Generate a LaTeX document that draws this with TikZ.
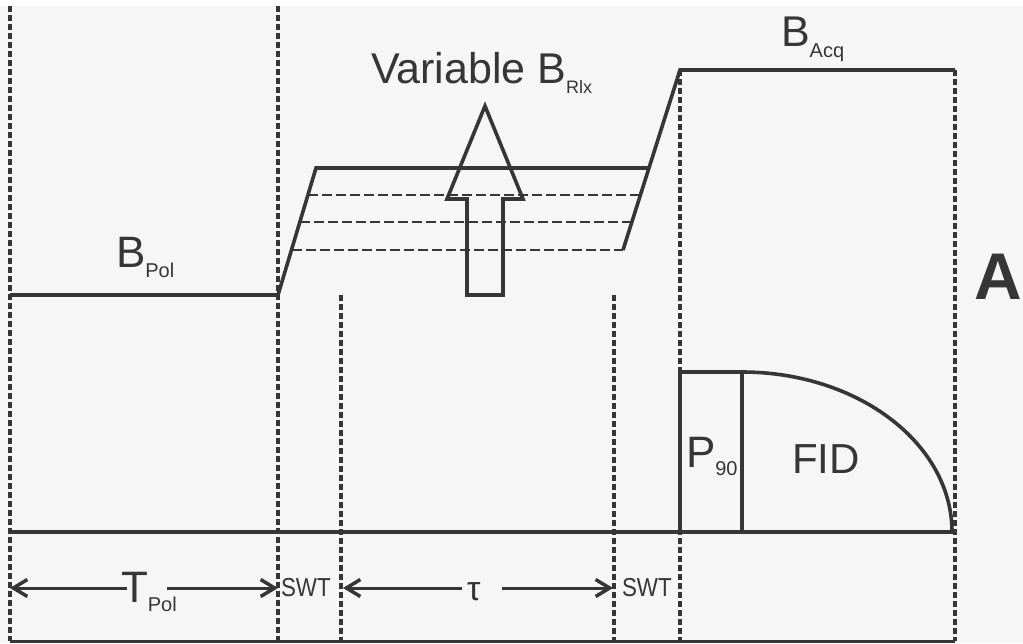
\documentclass[tikz,border=0pt]{standalone}
\usepackage{fontspec}
\setmainfont{Liberation Sans}
\usetikzlibrary{arrows.meta}
\definecolor{ink}{HTML}{363636}
\definecolor{bgc}{HTML}{F6F6F6}
\newcommand{\dropsub}[3]{\raisebox{-#1pt}{\fontsize{#2}{#2}\selectfont #3}}
\begin{document}
\begin{tikzpicture}[x=1pt,y=-1pt,line join=miter,
  solidln/.style={draw=ink,line width=3.6pt},
  vdash/.style={draw=ink,line width=4pt,dash pattern=on 6pt off 3pt},
  hdash/.style={draw=ink,line width=2.4pt,dash pattern=on 10pt off 4pt},
  lbl/.style={inner sep=0pt,outer sep=0pt,anchor=base west,text=ink},
  dimarr/.style={draw=ink,line width=3pt,-{Straight Barb[length=14pt,width=17pt,line width=3.5pt]}}]
\useasboundingbox (0,0) rectangle (1023,643);
\fill[white] (0,0) rectangle (1023,643);
\fill[bgc] (0,6) rectangle (1023,643);
% key coordinates
\coordinate (p0) at (10,295);
\coordinate (p1) at (278,295);
\coordinate (p2) at (316,168);
\coordinate (p3) at (649,168);
\coordinate (r0) at (623,250);
\coordinate (p4) at (680,70);
\coordinate (p5) at (955,70);
% vertical dashed guides
\draw[vdash] (10,6) -- (10,641);
\draw[vdash] (278,6) -- (278,641);
\draw[vdash] (341,295) -- (341,641);
\draw[vdash] (614,295) -- (614,641);
\draw[vdash] (p4) -- (680,641);
\draw[vdash] (p5) -- (955,641);
% field profile
\draw[solidln] (p0) -- (p1) -- (p2) -- (p3);
\draw[solidln] (r0) -- (p4) -- (p5);
\draw[hdash] (308,195) -- (640,195);
\draw[hdash] (300,222) -- (632,222);
\draw[hdash] (291.5,250) -- (r0);
% hollow arrow
\draw[solidln] (467,295) -- (467,199) -- (447,199) -- (485,106) -- (523,199) -- (503,199) -- (503,295) -- cycle;
% baselines
\draw[solidln] (10,532) -- (955,532);
\draw[draw=ink,line width=3pt] (10,641) -- (955,641);
% P90 and FID
\draw[solidln] (680,532) -- (680,372) -- (742,372) -- (742,532);
\draw[solidln] (742,372) arc[start angle=-90,end angle=0,x radius=210,y radius=160];
% labels
\node[lbl,font=\fontsize{43}{50}\selectfont] (var) at (371,83) {Variable B\dropsub{10}{18}{Rlx}};
\node[lbl,font=\fontsize{44}{50}\selectfont] (bpol) at (116,267) {B\dropsub{10}{20}{Pol}};
\node[lbl,font=\fontsize{43}{50}\selectfont] (bacq) at (781,46) {B\dropsub{11}{20}{Acq}};
\node[lbl,font=\bfseries\fontsize{66}{70}\selectfont] (alab) at (974,299) {A};
\node[lbl,font=\fontsize{44}{50}\selectfont] (pn) at (686,467) {P\dropsub{8}{20}{90}};
\node[lbl,font=\fontsize{42}{50}\selectfont] (fid) at (792,473) {FID};
\node[lbl,font=\fontsize{44}{50}\selectfont] (tpol) at (121,602) {T\dropsub{9}{20}{Pol}};
\node[lbl,font=\fontsize{26}{30}\selectfont] (swta) at (281,596) {\scalebox{0.86}[1]{SWT}};
\node[lbl,font=\fontsize{26}{30}\selectfont] (swtb) at (622,596) {\scalebox{0.86}[1]{SWT}};
\node[lbl,font=\fontsize{34}{40}\selectfont] (tau) at (467,600) {τ};
% dimension arrows
\coordinate (ta) at (10,588);
\coordinate (tb) at (127,588);
\coordinate (tc) at (167,588);
\coordinate (td) at (278,588);
\coordinate (ua) at (343,588);
\coordinate (ub) at (462,588);
\coordinate (uc) at (502,588);
\coordinate (ud) at (613,588);
\draw[dimarr] (tb) -- (ta);
\draw[dimarr] (tc) -- (td);
\draw[dimarr] (ub) -- (ua);
\draw[dimarr] (uc) -- (ud);
\end{tikzpicture}
\end{document}
